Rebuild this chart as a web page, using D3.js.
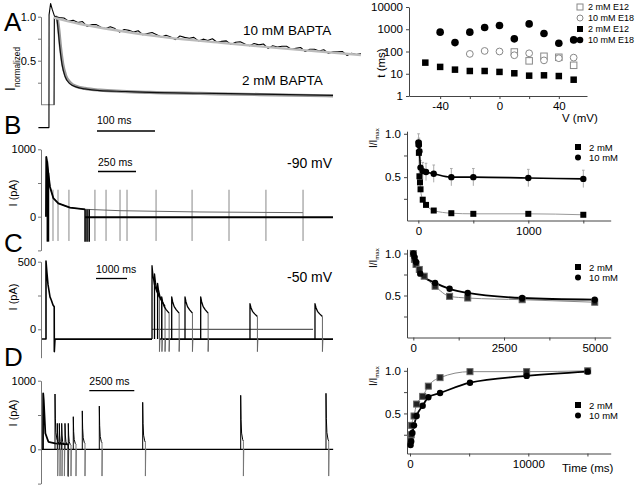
<!DOCTYPE html>
<html><head><meta charset="utf-8">
<script src="https://cdn.jsdelivr.net/npm/d3@7"></script>
<style>body{margin:0;background:#fff}svg{display:block;font-family:"Liberation Sans",Arial,sans-serif}</style>
</head><body><svg id="c" width="641" height="487"></svg>
<script>
// ================= DATA =================
// Panel A (left): normalized currents, time in ms
const a10Head = [[-20,-0.26],[-1.8,-0.26],[-1.6,1.02],[1,1.15],[4,1.08],[8,1.0]];
const a10Step = 8;
const a10Values = [0.99,0.985,0.95,0.96,0.935,0.945,0.89,0.91,0.91,0.88,0.865,0.885,0.865,0.825,0.855,0.845,0.825,0.84,0.795,0.81,0.82,0.795,0.77,0.79,0.77,0.74,0.78,0.765,0.755,0.765,0.725,0.745,0.73,0.75,0.71,0.72,0.725,0.685,0.71,0.715,0.69,0.67,0.695,0.68,0.69,0.64,0.67,0.655,0.665,0.665,0.63,0.64,0.65,0.605,0.63,0.63,0.61,0.625,0.585,0.60,0.60,0.605,0.56,0.585,0.57,0.58];
const a10Fit = [[6,0.99],[50,0.92],[100,0.86],[200,0.765],[300,0.70],[400,0.64],[536,0.565]];
const a2Trace = [[7,0],[7.5,0.98],[10,1.0],[12,0.97],[14,0.85],[17,0.65],[21,0.45],[26,0.32],[34,0.24],[46,0.2],[60,0.18],[86,0.16],[130,0.15],[172,0.14],[259,0.13],[362,0.12],[488,0.105]];
const a2Base = [[-14,0],[8,0]];
const a2Fit = [[9,1.0],[12,0.99],[15,0.86],[18,0.66],[22,0.46],[27,0.33],[35,0.25],[47,0.205],[60,0.185],[86,0.165],[172,0.14],[259,0.128],[362,0.115],[488,0.1]];

// Panel B (left): -90 mV, pA vs ms
const bFirst = [[0,0],[2,886],[8,800],[15,650],[26,445],[48,277],[81,199],[158,134],[257,110],[487,89],[1013,70],[1690,60]];
const bZeroLine = [[257,-8],[1888,-8]];
const bArtifactTimes = [46,79,151,322,395,487,533,724,961,1204,1447,1691];
const bArtifactRange = [400,-360];
const bBlackTimes = [9,16,257,270,284];
const bBlackTops = [820,650,110,108,106];

// Panel C (left): -50 mV
const cFirst = [[-130,-72],[0,-72],[0,505],[30,420],[65,330],[129,240],[170,217],[226,180],[265,167],[268,-165],[290,-72]];
const cLowSegs = [[[290,-72],[3420,-72]],[[3680,-72],[9258,-72]]];
const cHoldLine = [[3420,0],[8613,0]];
const cPulseStarts = [3420,3500,3600,3732,4055,4484,4990,6580,8677];
const cPulsePeaks = [470,410,340,240,240,240,240,190,190];
const cPulseShape = [[0,1],[30,0.85],[80,0.7],[150,0.6],[240,0.5]];
const cDrop = -165;

// Panel D (left)
const dZero = [[-60,0],[16120,0]];
const dFirst = [[0,0],[10,815],[40,720],[130,233],[300,110],[670,87],[1400,73]];
const dPulseStarts = [667,794,906,1039,1222,1405,1683,2183,3128,5539,10983,15722];
const dPulsePeaks = [806,378,378,378,378,378,475,560,630,685,787,816];
const dPulseShape = [[0,1],[20,0.55],[50,0.3],[110,0.18],[150,0.15]];
const dDrop = -390;

// Panel A (right): tau vs V (log)
const vSqFilled = [-50,-40,-30,-20,-10,0,10,20,30,40,50];
const tauSqFilled = [31.6,20.3,15.3,13.3,13.3,12.1,10.5,8.2,8.5,7.9,5.4];
const vCircFilled = [-40,-30,-20,-10,0,10,20,30,40,50];
const tauCircFilled = [741,251,741,1200,1470,370,1740,640,236,332];
const vCircOpen = [-20,-10,0,10,20,30,40,50];
const tauCircOpen = [78,106,100,68,83,40,50,53];
const vSqOpen = [10,20,30,40,50];
const tauSqOpen = [95,38,61,55,24];
const legendA = ["2 mM E12","10 mM E18","2 mM E12","10 mM E18"];

// Panel B (right)
const bR2t = [2,5,10,15,20,40,70,140,300,500,1000,1500];
const bR2v = [0.885,0.78,0.51,0.44,0.36,0.24,0.18,0.115,0.084,0.077,0.077,0.066];
const bR10t = [2,5,10,20,40,70,140,300,500,1000,1500];
const bR10v = [0.90,0.87,0.80,0.61,0.57,0.56,0.54,0.50,0.50,0.49,0.48];
const bR10e = [0.10,0.08,0.08,0.08,0.10,0.10,0.10,0.10,0.10,0.10,0.10];
// Panel C (right)
const cR2t = [0,30,75,165,300,600,1000,1500,3000,5000];
const cR2v = [1.0,0.93,0.87,0.81,0.73,0.61,0.49,0.47,0.45,0.42];
const cR10t = [0,30,75,190,600,1000,1500,3000,5000];
const cR10v = [1.0,0.96,0.90,0.76,0.65,0.58,0.53,0.47,0.45];
// Panel D (right)
const dR2t = [50,100,140,340,560,1070,1550,2540,5070,9860,15020];
const dR2v = [0.21,0.25,0.36,0.47,0.61,0.70,0.82,0.92,0.99,0.99,1.0];
const dR10t = [50,100,200,340,560,1070,1550,2540,5070,9860,15020];
const dR10v = [0.13,0.17,0.27,0.36,0.47,0.59,0.69,0.74,0.86,0.94,0.99];
const legendBCD = ["2 mM","10 mM"];

// ================= DRAW =================
const svg = d3.select('#c');
svg.append('rect').attr('width',641).attr('height',487).attr('fill','#fff');

function path(xs, ys, pts, color, width, curve) {
  const l = d3.line().x(d=>xs(d[0])).y(d=>ys(d[1]));
  if (curve) l.curve(curve);
  svg.append('path').attr('d', l(pts)).attr('fill','none').attr('stroke',color)
    .attr('stroke-width',width).attr('stroke-linejoin','round');
}
function txt(x,y,s,size,anchor) {
  return svg.append('text').attr('x',x).attr('y',y).attr('font-size',size)
    .attr('text-anchor',anchor||'start').attr('fill','#000').text(s);
}
function styleAxis(g, color, fs) {
  g.selectAll('path,line').attr('stroke',color);
  g.selectAll('text').attr('fill','#000').attr('font-size',fs)
   .attr('font-family','"Liberation Sans", Arial, sans-serif');
}
function leftAxis(ys, major, minor, fmt) {
  const ax = d3.axisLeft(ys).tickValues(major.concat(minor))
    .tickFormat(d => major.includes(d) ? fmt(d) : '').tickSize(3).tickSizeOuter(0).tickPadding(2);
  const g = svg.append('g').attr('transform','translate(41,0)').call(ax);
  styleAxis(g,'#777',11);
}
function rotLabel(x,y,s,size) {
  svg.append('text').attr('transform',`translate(${x},${y}) rotate(-90)`)
    .attr('text-anchor','middle').attr('font-size',size).text(s);
}
function scaleBar(x0,x1,y,label,ty) {
  svg.append('line').attr('x1',x0).attr('x2',x1).attr('y1',y).attr('y2',y).attr('stroke','#000').attr('stroke-width',1.3);
  txt(x0,ty,label,10.5);
}

// Panel letters
[['A',31],['B',134],['C',252],['D',366]].forEach(([l,y]) => txt(4,y,l,26));

// ---------- Panel A left ----------
{
  const xs = d3.scaleLinear().domain([0,100]).range([50,108]);
  const ys = d3.scaleLinear().domain([0,1]).range([104.7,16.7]);
  leftAxis(ys,[0.5,1.0],[0.25,0.75],d3.format('.1f'));
  const lab = svg.append('text').attr('transform','translate(15,91) rotate(-90)').attr('font-size',14);
  lab.append('tspan').text('I');
  lab.append('tspan').attr('font-size',8.2).attr('dy',5).text('normalized');
  path(xs,ys,a2Base,'#999',1.2);
  path(xs,ys,a2Fit,'#999',3.2,d3.curveMonotoneX);
  path(xs,ys,a2Trace,'#111',1.2,d3.curveMonotoneX);
  const a10 = a10Head.concat(a10Values.map((v,i)=>[(i+1)*a10Step+8, v]));
  path(xs,ys,a10,'#000',1.1);
  path(xs,ys,a10Fit,'#bbb',2.4,d3.curveMonotoneX);
  txt(243,35,'10 mM BAPTA',13.5);
  txt(242,85,'2 mM BAPTA',13.5);
  scaleBar(xs(81),xs(181),131,'100 ms',124);
}

// ---------- Panel B left ----------
{
  const xs = d3.scaleLinear().domain([0,1000]).range([46,198]);
  const ys = d3.scaleLinear().domain([-500,1000]).range([250.4,149.3]);
  leftAxis(ys,[0,1000],[500,-500],d3.format('d'));
  rotLabel(17,193,'I (pA)',11);
  bArtifactTimes.forEach(t => path(xs,ys,[[t,bArtifactRange[0]],[t,bArtifactRange[1]]],'#888',1));
  path(xs,ys,bFirst,'#666',1);
  path(xs,ys,bFirst.filter(d=>d[0]<=300),'#000',1.8);
  path(xs,ys,bZeroLine,'#000',1.8);
  bBlackTimes.forEach((t,i)=>path(xs,ys,[[t,bBlackTops[i]],[t,-370]],'#000',1.6));
  txt(287,168,'-90 mV',14);
  scaleBar(98,136,171.5,'250 ms',166);
}

// ---------- Panel C left ----------
{
  const xs = d3.scaleLinear().domain([0,1000]).range([46,77]);
  const ys = d3.scaleLinear().domain([-210,500]).range([357.7,261.7]);
  leftAxis(ys,[0,500],[250],d3.format('d'));
  rotLabel(17,297,'I (pA)',11);
  path(xs,ys,cFirst,'#000',1.6);
  cLowSegs.forEach(s=>path(xs,ys,s,'#000',1.8));
  path(xs,ys,cHoldLine,'#333',1);
  cPulseStarts.forEach((t,i)=>{
    const p = cPulsePeaks[i];
    const pts = [[t,-72]].concat(cPulseShape.map(([dt,r])=>[t+dt,r*p]));
    path(xs,ys,pts,'#000',1.3);
    const te = t + cPulseShape[cPulseShape.length-1][0];
    path(xs,ys,[[te,cPulseShape[cPulseShape.length-1][1]*p],[te,cDrop],[te+15,-72]],'#666',1);
  });
  txt(287,282,'-50 mV',14);
  scaleBar(96,127,278.5,'1000 ms',273);
}

// ---------- Panel D left ----------
{
  const xs = d3.scaleLinear().domain([0,2500]).range([43,88]);
  const ys = d3.scaleLinear().domain([-500,1000]).range([483.6,380.7]);
  leftAxis(ys,[0,1000],[500,-500],d3.format('d'));
  rotLabel(17,413,'I (pA)',11);
  path(xs,ys,dZero,'#000',1.3);
  path(xs,ys,dFirst,'#000',1.8);
  path(xs,ys,[[1400,73],[1400,dDrop],[1420,0]],'#000',1.2);
  dPulseStarts.forEach((t,i)=>{
    const p = dPulsePeaks[i];
    const pts = [[t,0]].concat(dPulseShape.map(([dt,r])=>[t+dt,r*p]));
    path(xs,ys,pts,'#000',1);
    const te = t + dPulseShape[dPulseShape.length-1][0];
    path(xs,ys,[[te,dPulseShape[dPulseShape.length-1][1]*p],[te,dDrop],[te+20,0]],'#777',1);
  });
  scaleBar(89.3,134.3,390.7,'2500 ms',385);
}

// ---------- Right panels ----------
function sq(xs,ys,xv,yv,size,fill,stroke) {
  svg.append('g').selectAll('rect').data(xv.map((x,i)=>[x,yv[i]])).join('rect')
    .attr('x',d=>xs(d[0])-size/2).attr('y',d=>ys(d[1])-size/2).attr('width',size).attr('height',size)
    .attr('fill',fill).attr('stroke',stroke||'none');
}
function circ(xs,ys,xv,yv,r,fill,stroke) {
  svg.append('g').selectAll('circle').data(xv.map((x,i)=>[x,yv[i]])).join('circle')
    .attr('cx',d=>xs(d[0])).attr('cy',d=>ys(d[1])).attr('r',r)
    .attr('fill',fill).attr('stroke',stroke||'none');
}
function rAxes(xs,ys,xMaj,xMin,yMaj,yMin,xf,yf) {
  const ax = d3.axisBottom(xs).tickValues(xMaj.concat(xMin)).tickFormat(d=>xMaj.includes(d)?xf(d):'')
    .tickSize(3).tickSizeOuter(0).tickPadding(3);
  const ay = d3.axisLeft(ys).tickValues(yMaj.concat(yMin)).tickFormat(d=>yMaj.includes(d)?yf(d):'')
    .tickSize(3).tickSizeOuter(0).tickPadding(3);
  styleAxis(svg.append('g').attr('transform',`translate(0,${ys.range()[0]})`).call(ax),'#444',11.5);
  styleAxis(svg.append('g').attr('transform',`translate(${xs.range()[0]},0)`).call(ay),'#444',11.5);
}
function imaxLabel(y) {
  const t = svg.append('text').attr('transform',`translate(377,${y}) rotate(-90)`).attr('font-size',10);
  t.append('tspan').text('I/I');
  t.append('tspan').attr('font-size',6).attr('dy',2).text('max');
}
function legend2(y0) {
  svg.append('rect').attr('x',575).attr('y',y0-3).attr('width',6).attr('height',6).attr('fill','#000');
  svg.append('circle').attr('cx',578).attr('cy',y0+10.5).attr('r',3).attr('fill','#000');
  txt(589,y0+3.5,legendBCD[0],9.5);
  txt(589,y0+14,legendBCD[1],9.5);
}

// Right A
{
  const xs = d3.scaleLinear().domain([-61,59]).range([409,587]);
  const ys = d3.scaleLog().domain([1,10000]).range([96,7]);
  rAxes(xs,ys,[-40,0,40],[-20,20],[1,10,100,1000,10000],[],d=>String(d),d=>String(d));
  sq(xs,ys,vSqOpen,tauSqOpen,6.5,'#fff','#888');
  circ(xs,ys,vCircOpen,tauCircOpen,3.4,'#fff','#888');
  sq(xs,ys,vSqFilled,tauSqFilled,6.5,'#000');
  circ(xs,ys,vCircFilled,tauCircFilled,3.8,'#000');
  txt(562,122,'V (mV)',11.5);
  rotLabel(385,63,'t (ms)',11.5);
  const ly = [7,18,29,40];
  svg.append('rect').attr('x',577).attr('y',ly[0]-3).attr('width',6).attr('height',6).attr('fill','#fff').attr('stroke','#888');
  svg.append('circle').attr('cx',580).attr('cy',ly[1]).attr('r',3).attr('fill','#fff').attr('stroke','#888');
  svg.append('rect').attr('x',577).attr('y',ly[2]-3).attr('width',6).attr('height',6).attr('fill','#000');
  svg.append('circle').attr('cx',580).attr('cy',ly[3]).attr('r',3.3).attr('fill','#000');
  legendA.forEach((s,i)=>txt(588,ly[i]+3.3,s,9));
}
// Right B
{
  const xs = d3.scaleLinear().domain([-103,1749]).range([407,610.7]);
  const ys = d3.scaleLinear().domain([0,1.03]).range([220.5,131.2]);
  rAxes(xs,ys,[0,1000],[500,1500],[0.5,1.0],[0.25,0.75],d=>String(d),d3.format('.1f'));
  bR10t.forEach((t,i)=>{
    path(xs,ys,[[t,bR10v[i]-bR10e[i]],[t,bR10v[i]+bR10e[i]]],'#aaa',1);
    path(xs,ys,[[t-12,bR10v[i]+bR10e[i]],[t+12,bR10v[i]+bR10e[i]]],'#aaa',1);
  });
  path(xs,ys,bR2t.map((t,i)=>[t,bR2v[i]]),'#999',1,d3.curveMonotoneX);
  path(xs,ys,bR10t.map((t,i)=>[t,bR10v[i]]),'#000',1.6,d3.curveMonotoneX);
  sq(xs,ys,bR2t,bR2v,6,'#000');
  circ(xs,ys,bR10t,bR10v,3.2,'#000');
  imaxLabel(148);
  legend2(147);
}
// Right C
{
  const xs = d3.scaleLinear().domain([-174,5440]).range([407,610.7]);
  const ys = d3.scaleLinear().domain([0,1.05]).range([337.5,249.3]);
  rAxes(xs,ys,[0,2500,5000],[1250,3750],[0.5,1.0],[0.25,0.75],d=>String(d),d3.format('.1f'));
  path(xs,ys,cR2t.map((t,i)=>[t,cR2v[i]]),'#888',1,d3.curveMonotoneX);
  path(xs,ys,cR10t.map((t,i)=>[t,cR10v[i]]),'#000',1.8,d3.curveMonotoneX);
  sq(xs,ys,cR2t,cR2v,6,'#222','#666');
  circ(xs,ys,cR10t,cR10v,3.2,'#000');
  imaxLabel(268);
  legend2(267);
}
// Right D
{
  const xs = d3.scaleLinear().domain([-254,16966]).range([407,610.7]);
  const ys = d3.scaleLinear().domain([0.03,1.04]).range([453.5,367.4]);
  rAxes(xs,ys,[0,10000],[5000,15000],[0.5,1.0],[0.25,0.75],d=>String(d),d3.format('.1f'));
  path(xs,ys,dR2t.map((t,i)=>[t,dR2v[i]]),'#888',1,d3.curveMonotoneX);
  path(xs,ys,dR10t.map((t,i)=>[t,dR10v[i]]),'#000',1.8,d3.curveMonotoneX);
  sq(xs,ys,dR2t,dR2v,6,'#222','#666');
  circ(xs,ys,dR10t,dR10v,3.2,'#000');
  imaxLabel(386);
  legend2(405);
  txt(562,472,'Time (ms)',11.5);
}
</script></body></html>
